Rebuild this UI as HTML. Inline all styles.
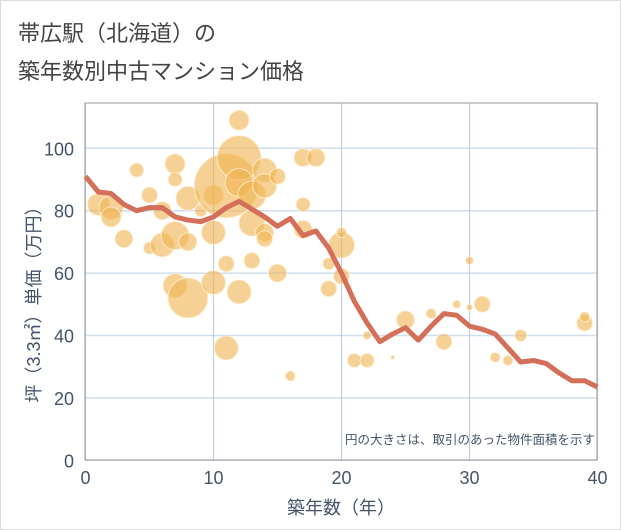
<!DOCTYPE html>
<html><head><meta charset="utf-8"><style>
body{margin:0;background:#fff;}
#wrap{position:relative;width:619px;height:528px;background:#fff;border:1px solid #ddd;font-family:"Liberation Sans","Noto Sans CJK JP",sans-serif;}
.title{position:absolute;left:17px;font-size:22px;color:#444;}
</style></head><body>
<div id="wrap">
<div class="title" style="top:15px">帯広駅（北海道）の</div>
<div class="title" style="top:53px">築年数別中古マンション価格</div>
<svg id="chart" width="621" height="530" style="position:absolute;left:-1px;top:-1px"></svg>
</div>
<script>
const xTicks=[0,10,20,30,40];
const yTicks=[0,20,40,60,80,100];
const lineAges=[0,1,2,3,4,5,6,7,8,9,10,11,12,13,14,15,16,17,18,19,20,21,22,23,24,25,26,27,28,29,30,31,32,33,34,35,36,37,38,39,40];
const lineValues=[91,86,85.5,82,80,81,81,78,77,76.5,78,81,83,80.5,78,75,77.5,72,73.5,68,60,51,44,38,40.5,42.5,38.5,43,47,46.5,43,42,40.5,36,31.5,32,31,28,25.5,25.5,23.5];
const bubbleAges=[1,2,2,3,4,5,5,6,6,7,7,7,7,8,8,8,9,10,10,10,11,11,11,12,12,12,12,13,13,13,14,14,14,14,15,15,16,17,17,17,18,19,19,20,20,20,21,22,22,24,25,27,28,29,30,30,31,32,33,34,39,39];
const bubbleValues=[82,81,78,71,93,85,68,80,69,95,90,72,56,84,70,52,80,73,57,85,88,63,36,109,97,89,54,85,76,64,93,88,73,71,91,60,27,97,82,74,97,63,55,69,73,59,32,40,32,33,45,47,38,50,64,49,50,33,32,40,44,46];
const bubbleSizes=[11,12,10,9,7,8,6,9,12,10,7,14,12,12,9,20,6,12,12,10,32,8,12,10,22,14,12,14,13,8,12,12,9,8,8,9,5,9,7,9,9,6,8,13,5,8,7,4,7,2,9,5,8,4,4,3,8,5,5,6,8,5];
const X0=85.5,XS=12.8,Y0=460.3,YS=3.12;
const xs=v=>X0+v*XS, ys=v=>Y0-v*YS;
const svg=document.getElementById('chart');
const NS='http://www.w3.org/2000/svg';
function mk(t,a){const e=document.createElementNS(NS,t);for(const k in a)e.setAttribute(k,a[k]);svg.appendChild(e);return e;}
const bg=mk('rect',{x:85,y:103,width:512,height:357,fill:'#fff',stroke:'none'});


yTicks.forEach(t=>{
 const g=mk('line',{x1:85,x2:597,y1:ys(t),y2:ys(t),stroke:'#d0ddeb','stroke-width':1.5});
 
 
 const l=mk('text',{x:74,y:ys(t)+7,'text-anchor':'end','font-size':18,fill:'#44546a','font-family':'Liberation Sans, sans-serif'});
 l.textContent=t;
 
 
});
xTicks.forEach(t=>{
 const g=mk('line',{x1:xs(t),x2:xs(t),y1:103,y2:460,stroke:'#c0cfdf','stroke-width':1.2});
 
 
 const l=mk('text',{x:xs(t),y:484,'text-anchor':'middle','font-size':18,fill:'#44546a','font-family':'Liberation Sans, sans-serif'});
 l.textContent=t;
 
 
});
const border=mk('rect',{x:85,y:103,width:512,height:357,fill:'none',stroke:'#9a9a9a','stroke-width':1});


bubbleAges.forEach((a,i)=>{
 const c=mk('circle',{cx:xs(a),cy:ys(bubbleValues[i]),r:bubbleSizes[i],fill:'rgba(240,178,80,0.6)',stroke:'rgba(255,240,210,0.8)','stroke-width':1});
 
 
});
const pts=lineAges.map((a,i)=>xs(a)+','+ys(lineValues[i])).join(' ');
const pl=mk('polyline',{points:pts,fill:'none',stroke:'#d4705a','stroke-width':5,'stroke-linejoin':'round'});


const note=mk('text',{x:595,y:444,'text-anchor':'end','font-size':12.5,fill:'#44546a'});
note.textContent='円の大きさは、取引のあった物件面積を示す';


const xt=mk('text',{x:341,y:514,'text-anchor':'middle','font-size':18,fill:'#44546a'});
xt.textContent='築年数（年）';


const yt=mk('text',{x:0,y:0,'text-anchor':'middle','font-size':18,fill:'#44546a',transform:'translate(40,300) rotate(-90)'});
yt.textContent='坪（3.3㎡）単価（万円）';


</script>
</body></html>
